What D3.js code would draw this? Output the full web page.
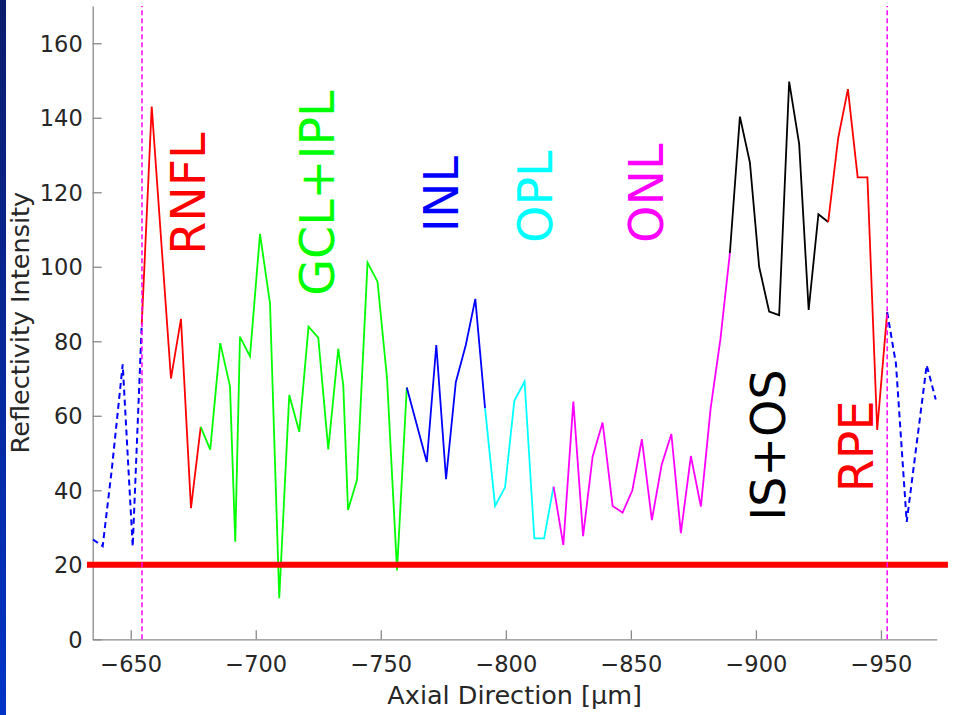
<!DOCTYPE html>
<html>
<head>
<meta charset="utf-8">
<script src="https://cdn.jsdelivr.net/npm/d3@7"></script>
<style>
  html, body { margin: 0; padding: 0; background: #ffffff; }
  svg { display: block; font-family: "DejaVu Sans", sans-serif; }
</style>
</head>
<body>
<svg id="chart" width="963" height="715"></svg>
<script>
// Axial positions of the A-scan samples (µm) and their reflectivity
const axialDepth = [
  -634.9, -638.8, -642.5, -646.8, -650.8, -654.4,
  -658.4, -666.1, -670.1, -674.1, -678.0,
  -681.8, -685.8, -689.7, -691.8, -693.7, -697.7, -701.7, -705.7, -709.4,
  -713.4, -717.4, -721.1, -725.0, -729.0, -733.0, -735.0, -736.9, -740.5,
  -744.7, -748.7, -752.5, -756.5, -760.4,
  -768.4, -772.2, -776.1, -780.0, -784.0, -787.8, -791.7,
  -795.7, -799.7, -803.4, -807.5, -811.4, -815.3, -819.1,
  -823.0, -827.0, -830.9, -834.7, -838.7, -842.7, -846.7, -850.6, -854.4,
  -858.4, -862.3, -866.2, -870.0, -874.0, -878.0, -881.9, -885.8, -889.6,
  -893.6, -897.6, -901.3, -905.3, -909.3, -913.3, -917.3, -921.1, -925.0, -928.9,
  -932.9, -936.8, -940.7, -944.6, -948.5, -952.5,
  -956.0, -960.3, -968.3, -971.9
];
const reflectivity = [
  26.8, 25, 46, 73.8, 24.9, 84.4,
  143, 70, 86, 35.2, 57,
  50.9, 79.5, 67.9, 26.2, 81.2, 76, 108.8, 90.2, 11,
  65.6, 55.7, 83.9, 81, 51, 78, 68.2, 34.7, 42.8,
  101.1, 96, 70, 18.5, 67.6,
  47.6, 79, 43, 69, 79, 91.4, 62,
  35.8, 40.8, 64, 69.2, 27.1, 27.1, 41,
  25.3, 63.8, 27.7, 49, 58.2, 35.8, 34, 40, 53.7,
  32, 46.8, 55.1, 28.5, 49.2, 35.6, 62, 80.5, 103.7,
  140.3, 128, 100, 88, 87, 149.7, 133, 88.4, 114.1, 112,
  134.5, 147.7, 124, 124, 56.2, 87.8,
  74, 31.5, 73.6, 64.4
];

// Layer segmentation: sample index where each segment starts/ends
const segmentBreaks = [0, 5, 10, 33, 40, 47, 65, 75, 81, 85];
const segmentNames = ["vitreous", "RNFL", "GCL+IPL", "INL", "OPL", "ONL", "IS+OS", "RPE", "choroid"];
const layerLabels = ["RNFL", "GCL+IPL", "INL", "OPL", "ONL", "IS+OS", "RPE"];

// Retina boundaries (µm) and noise threshold
const retinaBounds = [-654.5, -952.5];
const threshold = 20;

const xTicks = [-650, -700, -750, -800, -850, -900, -950];
const yTicks = [0, 20, 40, 60, 80, 100, 120, 140, 160];

// ---- styling ----
const segmentStyle = {
  "vitreous": { color: "#0000ff", dash: "6,4" },
  "RNFL":     { color: "#ff0000", dash: null },
  "GCL+IPL":  { color: "#00ff00", dash: null },
  "INL":      { color: "#0000ff", dash: null },
  "OPL":      { color: "#00ffff", dash: null },
  "ONL":      { color: "#ff00ff", dash: null },
  "IS+OS":    { color: "#000000", dash: null },
  "RPE":      { color: "#ff0000", dash: null },
  "choroid":  { color: "#0000ff", dash: "6,4" }
};
// label anchors in data coordinates (x µm at baseline, y at text start)
const labelPlace = {
  "RNFL":    [-679.7, 103.2],
  "GCL+IPL": [-731.1, 92.2],
  "INL":     [-780.9, 109.3],
  "OPL":     [-818.5, 106.4],
  "ONL":     [-863.0, 106.4],
  "IS+OS":   [-911.6, 31.8],
  "RPE":     [-946.9, 39.5]
};

const svg = d3.select("#chart");
const W = 963, H = 715;

// slide edge strip
const defs = svg.append("defs");
const grad = defs.append("linearGradient").attr("id", "edge")
  .attr("x1", 0).attr("y1", 0).attr("x2", 0).attr("y2", 1);
grad.append("stop").attr("offset", "0%").attr("stop-color", "#0c1c6c");
grad.append("stop").attr("offset", "100%").attr("stop-color", "#0034c8");
svg.append("rect").attr("x", 0).attr("y", 0).attr("width", 6).attr("height", H)
  .attr("fill", "url(#edge)");

const x = d3.scaleLinear().domain([-634.8, -972.3]).range([92.7, 936.7]);
const y = d3.scaleLinear().domain([0, 170]).range([639.3, 6]);

const axisColor = "#8a8a8a";
const textColor = "#262626";

// axes (inward ticks, no box)
const gx = svg.append("g").attr("transform", `translate(0,${y(0)})`)
  .call(d3.axisBottom(x).tickValues(xTicks).tickSizeInner(-9).tickSizeOuter(0).tickPadding(16.6));
const gy = svg.append("g").attr("transform", `translate(${x.range()[0]},0)`)
  .call(d3.axisLeft(y).tickValues(yTicks).tickSizeInner(-9).tickSizeOuter(0).tickPadding(10)
    .tickFormat(d3.format("d")));
[gx, gy].forEach(g => {
  g.select(".domain").attr("stroke", axisColor).attr("stroke-width", 1.3);
  g.selectAll(".tick line").attr("stroke", axisColor).attr("stroke-width", 1.3);
  g.selectAll(".tick text").attr("fill", textColor)
    .style("font-family", "'DejaVu Sans', sans-serif").style("font-size", "22.5px");
});
gy.selectAll(".tick text").attr("dy", "0.36em");

svg.append("text")
  .attr("x", (x.range()[0] + x.range()[1]) / 2).attr("y", 704)
  .attr("text-anchor", "middle").attr("fill", textColor)
  .style("font-size", "25.5px")
  .text("Axial Direction [µm]");
svg.append("text")
  .attr("transform", `translate(28.5,${(y.range()[0] + y.range()[1]) / 2}) rotate(-90)`)
  .attr("text-anchor", "middle").attr("fill", textColor)
  .style("font-size", "25.5px")
  .text("Reflectivity Intensity");

// profile, one path per layer segment
const line = d3.line().x(i => x(axialDepth[i])).y(i => y(reflectivity[i]));
segmentNames.forEach((name, k) => {
  const idx = d3.range(segmentBreaks[k], segmentBreaks[k + 1] + 1);
  const st = segmentStyle[name];
  svg.append("path")
    .attr("d", line(idx))
    .attr("fill", "none")
    .attr("stroke", st.color)
    .attr("stroke-width", st.dash ? 2 : 1.8)
    .attr("stroke-linejoin", "miter")
    .attr("stroke-dasharray", st.dash);
});

// noise threshold line
svg.append("line")
  .attr("x1", x(-632.5)).attr("x2", x(-976.8))
  .attr("y1", y(threshold)).attr("y2", y(threshold))
  .attr("stroke", "#ff0000").attr("stroke-width", 6);

// retina boundaries
svg.selectAll("line.bound").data(retinaBounds).enter().append("line")
  .attr("class", "bound")
  .attr("x1", d => x(d)).attr("x2", d => x(d))
  .attr("y1", y(0)).attr("y2", y(170))
  .attr("stroke", "#ff00ff").attr("stroke-width", 1.5)
  .attr("stroke-dasharray", "5,3");

// layer names
const labelColor = {
  "RNFL": "#ff0000", "GCL+IPL": "#00ff00", "INL": "#0000ff", "OPL": "#00ffff",
  "ONL": "#ff00ff", "IS+OS": "#000000", "RPE": "#ff0000"
};
layerLabels.forEach(name => {
  const [px, py] = labelPlace[name];
  svg.append("text")
    .attr("transform", `translate(${x(px)},${y(py)}) rotate(-90)`)
    .attr("text-anchor", "start")
    .attr("fill", labelColor[name])
    .style("font-size", "47.5px")
    .text(name);
});
</script>
</body>
</html>
